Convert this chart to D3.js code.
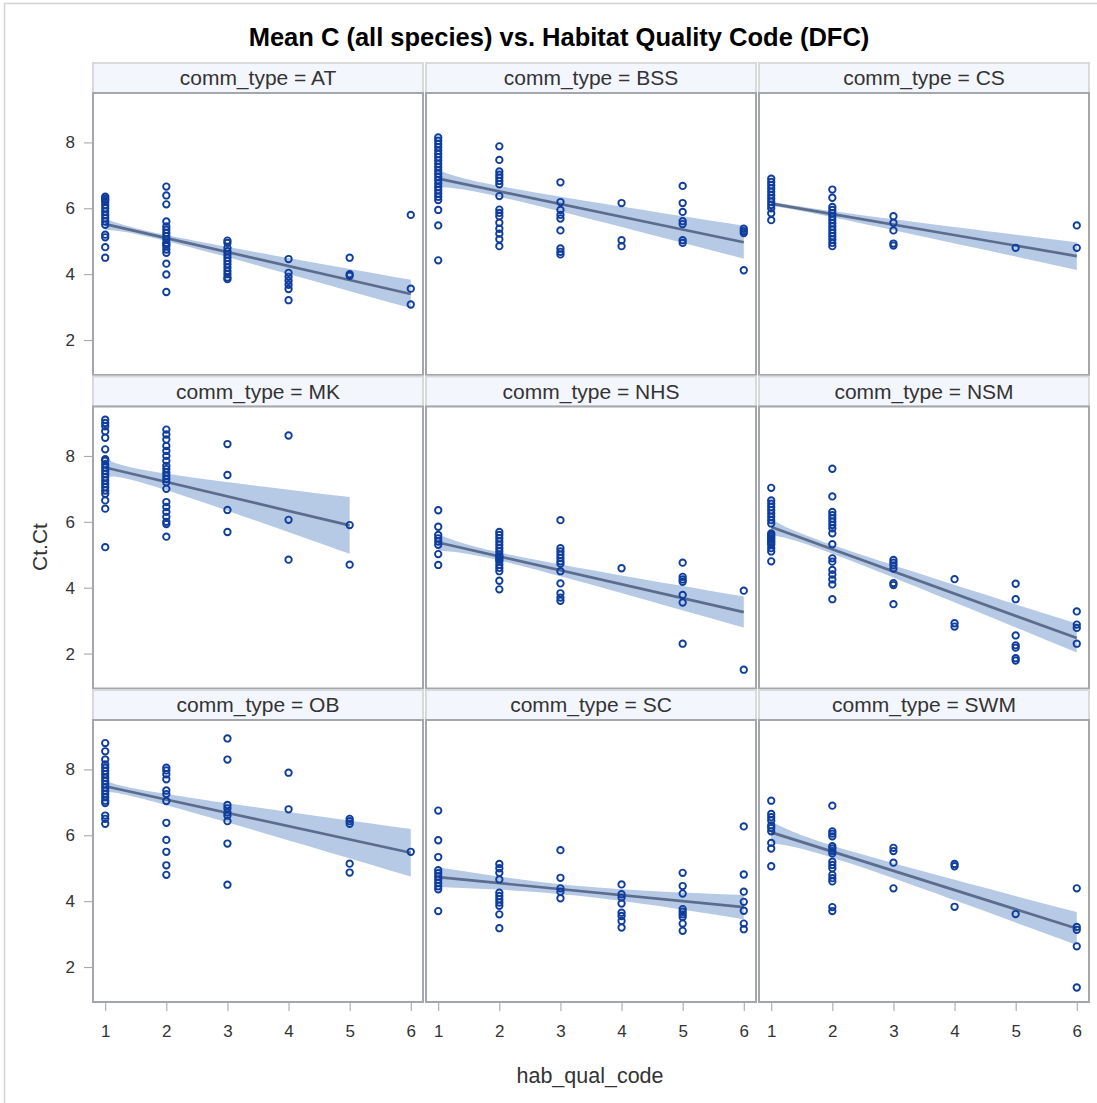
<!DOCTYPE html>
<html>
<head>
<meta charset="utf-8">
<script src="https://cdn.jsdelivr.net/npm/d3@7"></script>
<style>
  body { margin: 0; background: #fff; }
  text { font-family: "Liberation Sans", Arial, sans-serif; }
</style>
</head>
<body>
<div id="chart"></div>
<script>
const commTypes = ["AT", "BSS", "CS", "MK", "NHS", "NSM", "OB", "SC", "SWM"];
const xTicks = [1, 2, 3, 4, 5, 6];
const yTicks = [2, 4, 6, 8];

// Ct.Ct values for each comm_type, one list per hab_qual_code 1..6
const ptsAT = [
  [6.35, 6.3, 6.25, 6.2, 6.1, 6.0, 5.9, 5.8, 5.7, 5.6, 5.5, 5.2, 5.12, 4.82, 4.5],
  [6.66, 6.39, 6.12, 5.6, 5.45, 5.35, 5.25, 5.15, 5.05, 4.95, 4.9, 4.85, 4.75, 4.65, 4.32, 3.99, 3.46],
  [5.02, 4.95, 4.8, 4.7, 4.6, 4.5, 4.4, 4.3, 4.2, 4.1, 4.0, 3.9, 3.85],
  [4.46, 4.04, 3.92, 3.8, 3.68, 3.55, 3.21],
  [4.5, 4.0, 3.95],
  [5.8, 3.56, 3.08]
];
const ptsBSS = [
  [8.15, 8.05, 7.95, 7.85, 7.75, 7.65, 7.55, 7.45, 7.35, 7.25, 7.15, 7.05, 6.95, 6.85, 6.75, 6.65, 6.55, 6.45, 6.35, 6.25, 5.95, 5.48, 4.42],
  [7.88, 7.47, 7.12, 7.02, 6.93, 6.83, 6.73, 6.37, 5.96, 5.86, 5.76, 5.56, 5.38, 5.23, 5.06, 4.85],
  [6.79, 6.19, 5.95, 5.8, 5.69, 5.33, 4.78, 4.68, 4.6],
  [6.16, 5.03, 4.85],
  [6.68, 6.16, 5.89, 5.61, 5.52, 5.03, 4.95],
  [5.38, 5.31, 5.25, 4.12]
];
const ptsCS = [
  [6.9, 6.8, 6.7, 6.6, 6.5, 6.4, 6.3, 6.2, 6.1, 6.0, 5.85, 5.64],
  [6.57, 6.32, 6.04, 5.95, 5.85, 5.75, 5.65, 5.55, 5.45, 5.35, 5.25, 5.15, 5.05, 4.95, 4.85],
  [5.76, 5.56, 5.33, 4.93, 4.87],
  [],
  [4.8],
  [5.48, 4.8]
];
const ptsMK = [
  [9.1, 9.0, 8.9, 8.75, 8.55, 8.2, 7.9, 7.85, 7.75, 7.65, 7.55, 7.45, 7.35, 7.25, 7.15, 7.05, 6.95, 6.85, 6.65, 6.4, 5.23],
  [8.8, 8.65, 8.5, 8.3, 8.15, 8.0, 7.85, 7.7, 7.6, 7.5, 7.4, 7.3, 7.2, 7.0, 6.6, 6.45, 6.3, 6.15, 6.0, 5.93, 5.55],
  [8.36, 7.42, 6.36, 5.69],
  [8.62, 6.06, 4.85],
  [5.9, 4.7],
  []
];
const ptsNHS = [
  [6.35, 5.85, 5.6, 5.5, 5.4, 5.3, 5.02, 4.69],
  [5.69, 5.6, 5.5, 5.4, 5.3, 5.2, 5.1, 5.0, 4.95, 4.9, 4.85, 4.8, 4.7, 4.6, 4.5, 4.21, 3.95],
  [6.05, 5.2, 5.1, 5.0, 4.9, 4.8, 4.73, 4.5, 4.13, 3.83, 3.7, 3.6],
  [4.59],
  [4.76, 4.33, 4.25, 4.18, 3.78, 3.55, 2.3],
  [3.91, 1.51]
];
const ptsNSM = [
  [7.03, 6.65, 6.55, 6.45, 6.35, 6.25, 6.15, 6.05, 5.95, 5.65, 5.6, 5.55, 5.5, 5.45, 5.4, 5.35, 5.3, 5.2, 5.1, 4.8],
  [7.61, 6.77, 6.3, 6.2, 6.1, 6.0, 5.9, 5.8, 5.65, 5.32, 4.89, 4.79, 4.54, 4.4, 4.25, 4.1, 3.65],
  [4.84, 4.76, 4.68, 4.58, 4.14, 4.08, 3.5],
  [4.26, 2.92, 2.82],
  [4.12, 3.65, 2.55, 2.25, 2.18, 1.86, 1.79],
  [3.28, 2.88, 2.78, 2.3]
];
const ptsOB = [
  [8.8, 8.55, 8.3, 8.15, 8.05, 7.95, 7.85, 7.75, 7.65, 7.55, 7.45, 7.35, 7.25, 7.15, 7.05, 6.98, 6.6, 6.5, 6.35],
  [8.05, 7.97, 7.85, 7.7, 7.36, 7.25, 7.04, 6.38, 5.86, 5.5, 5.09, 4.8],
  [8.94, 8.3, 6.92, 6.82, 6.69, 6.6, 6.43, 5.75, 4.5],
  [7.9, 6.79],
  [6.5, 6.43, 6.35, 5.14, 4.87],
  [5.5]
];
const ptsSC = [
  [6.75, 5.85, 5.34, 4.94, 4.85, 4.75, 4.65, 4.55, 4.45, 4.36, 3.7],
  [5.13, 5.0, 4.86, 4.66, 4.26, 4.16, 4.06, 3.96, 3.86, 3.6, 3.18],
  [5.55, 4.71, 4.39, 4.29, 4.09],
  [4.51, 4.21, 4.11, 3.93, 3.65, 3.55, 3.4, 3.2],
  [4.86, 4.46, 4.23, 3.76, 3.68, 3.6, 3.52, 3.32, 3.1],
  [6.27, 4.81, 4.29, 3.98, 3.71, 3.32, 3.15]
];
const ptsSWM = [
  [7.05, 6.65, 6.55, 6.45, 6.3, 6.22, 6.12, 5.77, 5.6, 5.06],
  [6.9, 6.12, 6.05, 5.97, 5.67, 5.6, 5.52, 5.45, 5.2, 5.1, 5.0, 4.8, 4.7, 4.6, 3.82, 3.7],
  [5.62, 5.52, 5.17, 4.39],
  [5.13, 5.06, 3.83],
  [3.61],
  [4.39, 3.22, 3.13, 2.63, 1.38]
];
const panelPoints = [ptsAT, ptsBSS, ptsCS, ptsMK, ptsNHS, ptsNSM, ptsOB, ptsSC, ptsSWM];

// regression fit and confidence band
const fitFirst = [5.52, 6.90, 6.14, 7.65, 5.37, 5.84, 7.49, 4.73, 6.09];   // at code 1
const fitLast = [3.40, 4.97, 4.55, 5.89, 3.26, 2.47, 5.47, 3.82, 3.17];    // at last code
const fitLastX = [6, 6, 6, 5, 6, 6, 6, 6, 6];
const clmHalfFirst = [0.17, 0.26, 0.13, 0.33, 0.25, 0.24, 0.23, 0.30, 0.33];
const clmHalfMin = [0.10, 0.17, 0.08, 0.22, 0.13, 0.14, 0.16, 0.15, 0.19];
const clmMinX = [2.2, 2.2, 1.8, 1.8, 2.3, 2.2, 1.9, 3.3, 2.3];
const clmHalfLast = [0.43, 0.50, 0.42, 0.86, 0.47, 0.44, 0.72, 0.37, 0.50];

const width = 1097, height = 1103;
const panelW = 330, headH = 30, plotH = 282;
const colX = [93, 426, 759];
const rowY = [63, 376.5, 690];

const svg = d3.select("#chart")
  .append("svg")
  .attr("width", width)
  .attr("height", height);

// outer frame
svg.append("path")
  .attr("d", `M4.5,${height} V3.5 H${width}`)
  .attr("fill", "none")
  .attr("stroke", "#d4d4d4")
  .attr("stroke-width", 1.5);

svg.append("text")
  .attr("x", 559)
  .attr("y", 46)
  .attr("text-anchor", "middle")
  .attr("font-size", 25.5)
  .attr("font-weight", "bold")
  .attr("fill", "#000")
  .text("Mean C (all species) vs. Habitat Quality Code (DFC)");

const area = d3.area().curve(d3.curveNatural);
const line = d3.line();

commTypes.forEach((ct, i) => {
  const col = i % 3, row = Math.floor(i / 3);
  const x0 = colX[col], top = rowY[row] + headH;

  const x = d3.scaleLinear().domain([0.8, 6.2]).range([x0, x0 + panelW]);
  const y = d3.scaleLinear().domain([0.94, 9.5]).range([top + plotH, top]);

  const g = svg.append("g");

  // header
  g.append("rect")
    .attr("x", x0).attr("y", rowY[row])
    .attr("width", panelW).attr("height", headH)
    .attr("fill", "#f4f6fd")
    .attr("stroke", "#d8d9db")
    .attr("stroke-width", 2);
  g.append("text")
    .attr("x", x0 + panelW / 2)
    .attr("y", rowY[row] + 22)
    .attr("text-anchor", "middle")
    .attr("font-size", 21)
    .attr("fill", "#333")
    .text(`comm_type = ${ct}`);

  g.append("rect")
    .attr("x", x0).attr("y", top)
    .attr("width", panelW).attr("height", plotH)
    .attr("fill", "#fff");

  // confidence band
  const f = v => fitFirst[i] + (fitLast[i] - fitFirst[i]) * (v - 1) / (fitLastX[i] - 1);
  const band = [
    [1, clmHalfFirst[i]],
    [clmMinX[i], clmHalfMin[i]],
    [fitLastX[i], clmHalfLast[i]]
  ];
  area.x(d => x(d[0]))
    .y0(d => y(f(d[0]) - d[1]))
    .y1(d => y(f(d[0]) + d[1]));
  g.append("path")
    .datum(band)
    .attr("d", area)
    .attr("fill", "#b6cae6");

  line.x(d => x(d[0])).y(d => y(d[1]));
  g.append("path")
    .datum([[1, fitFirst[i]], [fitLastX[i], fitLast[i]]])
    .attr("d", line)
    .attr("fill", "none")
    .attr("stroke", "#5b6c8c")
    .attr("stroke-width", 2.7);

  // points
  const pts = [];
  panelPoints[i].forEach((vals, k) => vals.forEach(v => pts.push([xTicks[k], v])));
  g.selectAll("circle")
    .data(pts)
    .join("circle")
    .attr("cx", d => x(d[0]))
    .attr("cy", d => y(d[1]))
    .attr("r", 3.2)
    .attr("fill", "none")
    .attr("stroke", "#0f3d9e")
    .attr("stroke-width", 1.9);

  // plot frame
  g.append("rect")
    .attr("x", x0).attr("y", top)
    .attr("width", panelW).attr("height", plotH)
    .attr("fill", "none")
    .attr("stroke", "#a3a7ab")
    .attr("stroke-width", 2);

  if (col === 0) {
    const ay = g.append("g")
      .attr("transform", `translate(${x0 - 1},0)`)
      .call(d3.axisLeft(y).tickValues(yTicks).tickFormat(d3.format("d"))
        .tickSize(8).tickPadding(9).tickSizeOuter(0));
    ay.select(".domain").remove();
    ay.selectAll("line").attr("stroke", "#a0a0a0");
    ay.selectAll("text").attr("font-size", 17).attr("fill", "#333")
      .attr("font-family", "Liberation Sans, Arial, sans-serif");
  }
  if (row === 2) {
    const ax = g.append("g")
      .attr("transform", `translate(0,${top + plotH + 1})`)
      .call(d3.axisBottom(x).tickValues(xTicks).tickFormat(d3.format("d"))
        .tickSize(8).tickPadding(14).tickSizeOuter(0));
    ax.select(".domain").remove();
    ax.selectAll("line").attr("stroke", "#a0a0a0");
    ax.selectAll("text").attr("font-size", 17).attr("fill", "#333")
      .attr("font-family", "Liberation Sans, Arial, sans-serif");
  }
});

svg.append("text")
  .attr("x", 590)
  .attr("y", 1083)
  .attr("text-anchor", "middle")
  .attr("font-size", 21.5)
  .attr("fill", "#333")
  .text("hab_qual_code");

svg.append("text")
  .attr("transform", "translate(47,547) rotate(-90)")
  .attr("text-anchor", "middle")
  .attr("font-size", 21)
  .attr("fill", "#333")
  .text("Ct.Ct");
</script>
</body>
</html>
